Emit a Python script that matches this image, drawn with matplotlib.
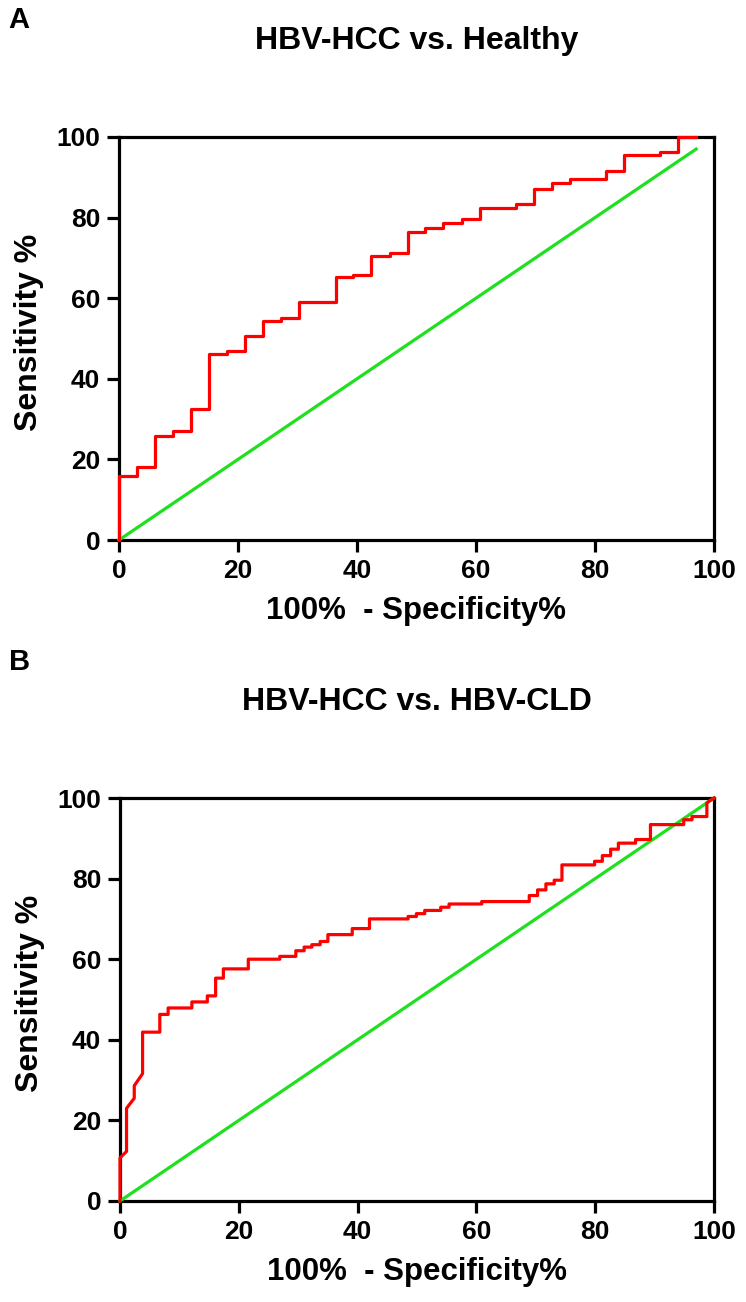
import matplotlib
matplotlib.use('Agg')
import matplotlib.pyplot as plt

plt.rcParams['font.family'] = ['Liberation Sans', 'DejaVu Sans']
plt.rcParams['font.weight'] = 'bold'

# Panel A: HBV-HCC vs. Healthy (step breakpoints, 100% - specificity / sensitivity)
healthy_fpr = [0, 0, 3.0, 6.1, 9.1, 12.1, 15.2, 18.2, 21.2, 24.2, 27.3, 30.3, 36.4, 39.4,
               42.4, 45.5, 48.5, 51.5, 54.5, 57.6, 60.6, 66.7, 69.7, 72.7, 75.8, 81.8,
               84.8, 90.9, 93.9, 97.0]
healthy_tpr = [0, 16.0, 18.0, 25.8, 27.1, 32.4, 46.1, 46.9, 50.7, 54.3, 55.2, 59.1, 65.2,
               65.8, 70.5, 71.1, 76.5, 77.3, 78.7, 79.7, 82.5, 83.4, 87.1, 88.7, 89.5,
               91.6, 95.6, 96.2, 100, 100]
healthy_ref = [0, 97.0]

# Panel B: HBV-HCC vs. HBV-CLD (curve vertices)
cld_fpr = [0, 0, 1.1, 1.1, 2.4, 2.4, 3.8, 3.8, 6.7, 6.7, 8.1, 8.1, 12.1, 12.1, 14.7, 14.7,
           16.1, 16.1, 17.4, 17.4, 21.6, 21.6, 26.9, 26.9, 29.6, 29.6, 31.0, 31.0, 32.3,
           32.3, 33.7, 33.7, 35.0, 35.0, 39.1, 39.1, 42.0, 42.0, 48.5, 48.5, 49.9, 49.9,
           51.3, 51.3, 54.0, 54.0, 55.4, 55.4, 60.9, 60.9, 68.9, 68.9, 70.3, 70.3, 71.7,
           71.7, 73.1, 73.1, 74.4, 74.4, 79.9, 79.9, 81.2, 81.2, 82.6, 82.6, 83.9, 83.9,
           86.8, 86.8, 89.3, 89.3, 94.9, 94.9, 96.3, 96.3, 98.8, 98.8, 100]
cld_tpr = [0, 10.7, 12.3, 23.0, 25.5, 28.6, 31.6, 41.9, 41.9, 46.3, 46.3, 47.9, 47.9, 49.4,
           49.4, 50.9, 50.9, 55.3, 55.3, 57.6, 57.6, 60.0, 60.0, 60.7, 60.7, 62.1, 62.1,
           63.0, 63.0, 63.6, 63.6, 64.4, 64.4, 66.1, 66.1, 67.6, 67.6, 70.0, 70.0, 70.6,
           70.6, 71.3, 71.3, 72.1, 72.1, 72.9, 72.9, 73.7, 73.7, 74.3, 74.3, 75.8, 75.8,
           77.2, 77.2, 78.7, 78.7, 79.6, 79.6, 83.4, 83.4, 84.3, 84.3, 85.7, 85.7, 87.3,
           87.3, 88.8, 88.8, 89.7, 89.7, 93.4, 93.4, 94.6, 94.6, 95.4, 95.4, 98.8, 100]
cld_ref = [0, 100]

ticks = [0, 20, 40, 60, 80, 100]
RED = '#ff0000'
GREEN = '#1ee01e'

W, H = 746, 1302
fig = plt.figure(figsize=(W / 100, H / 100), dpi=100)


def style_axes(ax, title):
    ax.set_xlim(0, 100)
    ax.set_ylim(0, 100)
    ax.set_xticks(ticks)
    ax.set_yticks(ticks)
    for s in ax.spines.values():
        s.set_linewidth(2.3)
    ax.tick_params(direction='out', length=8.5, width=2.3, labelsize=19, pad=5)
    ax.set_xlabel('100%  - Specificity%', fontsize=22.5, fontweight='bold')
    ax.set_ylabel('Sensitivity %', fontsize=23, fontweight='bold')
    ax.xaxis.set_label_coords(0.5, -0.176)
    ax.xaxis.label.set_va('center')
    ax.yaxis.set_label_coords(-0.151, 0.515)
    ax.yaxis.label.set_va('center')
    ax.set_title(title, fontsize=23, fontweight='bold', pad=63)


# panel A
axA = fig.add_axes([119 / W, 1 - 540 / H, 595 / W, 403 / H])
axA.step(healthy_fpr, healthy_tpr, where='post', color=RED, lw=2.3, clip_on=False, zorder=5)
axA.plot(healthy_ref, healthy_ref, color=GREEN, lw=2.3, clip_on=False, zorder=4)
style_axes(axA, 'HBV-HCC vs. Healthy')

# panel B
axB = fig.add_axes([120 / W, 1 - 1201 / H, 594 / W, 403 / H])
axB.plot(cld_fpr, cld_tpr, color=RED, lw=2.3, clip_on=False, zorder=5)
axB.plot(cld_ref, cld_ref, color=GREEN, lw=2.3, clip_on=False, zorder=4)
style_axes(axB, 'HBV-HCC vs. HBV-CLD')

fig.text(8 / W, 1 - 6 / H, 'A', fontsize=21, fontweight='bold', ha='left', va='top')
fig.text(9 / W, 1 - 648 / H, 'B', fontsize=21, fontweight='bold', ha='left', va='top')

fig.savefig('out.png', dpi=100)
plt.close(fig)
